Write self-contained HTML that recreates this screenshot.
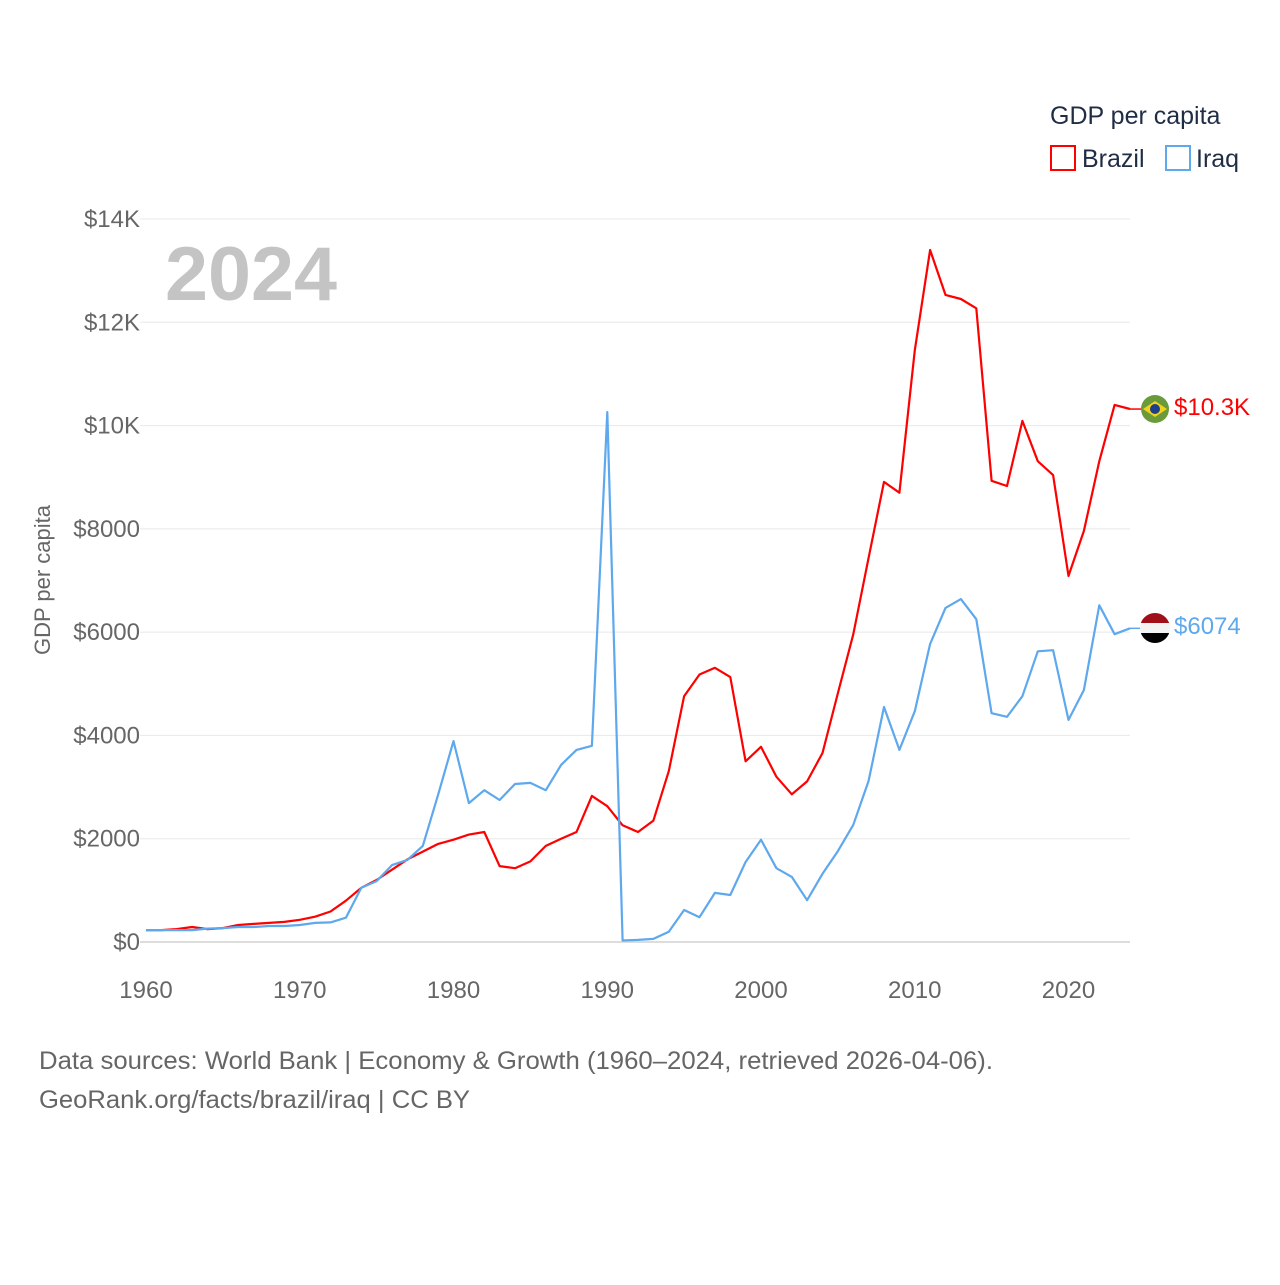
<!DOCTYPE html>
<html><head><meta charset="utf-8"><style>
html,body{margin:0;padding:0;background:#fff;}
body{width:1280px;height:1280px;position:relative;font-family:"Liberation Sans",sans-serif;overflow:hidden;}
</style></head><body>
<svg id="chart" width="1280" height="1280" xmlns="http://www.w3.org/2000/svg" font-family="Liberation Sans, sans-serif">
<g id="grid"></g>
<g id="yticks"></g>
<g id="xticks"></g>
<text x="165" y="300" font-size="76" font-weight="bold" fill="#c4c4c4" textLength="172" lengthAdjust="spacingAndGlyphs">2024</text>
<text transform="translate(50,580) rotate(-90)" text-anchor="middle" font-size="22" fill="#666">GDP per capita</text>
<g id="series"></g>
<g>
<text x="1050" y="124" font-size="25" fill="#1f2d45">GDP per capita</text>
<rect x="1051" y="146" width="24" height="24" fill="none" stroke="#ff0000" stroke-width="2"/>
<text x="1082" y="167" font-size="25" fill="#1f2d45">Brazil</text>
<rect x="1166" y="146" width="24" height="24" fill="none" stroke="#5ea8ee" stroke-width="2"/>
<text x="1196" y="167" font-size="25" fill="#1f2d45">Iraq</text>
</g>
<g>
<circle cx="1155" cy="409" r="14" fill="#6a9a3a"/>
<polygon points="1143,409 1155,401 1167,409 1155,417" fill="#f2d21b"/>
<circle cx="1155" cy="409" r="5" fill="#1e3f8a"/>
</g>
<g>
<clipPath id="ic"><circle cx="1155" cy="628" r="15"/></clipPath>
<g clip-path="url(#ic)">
<rect x="1140" y="613" width="30" height="10" fill="#a0101a"/>
<rect x="1140" y="623" width="30" height="10" fill="#f4f4f4"/>
<rect x="1140" y="633" width="30" height="10" fill="#000"/>
</g>
</g>
<text x="1174" y="415" font-size="24" fill="#ff0000">$10.3K</text>
<text x="1174" y="634" font-size="24" fill="#5ea8ee">$6074</text>
<text x="39" y="1069" font-size="25" fill="#666" textLength="954" lengthAdjust="spacingAndGlyphs">Data sources: World Bank | Economy &amp; Growth (1960–2024, retrieved 2026-04-06).</text>
<text x="39" y="1108" font-size="25" fill="#666" textLength="431" lengthAdjust="spacingAndGlyphs">GeoRank.org/facts/brazil/iraq | CC BY</text>
</svg>
<script>
const years = [];
for (let y = 1960; y <= 2024; y++) years.push(y);
const brazil = [230,230,250,290,250,270,330,350,370,390,430,490,590,800,1050,1200,1400,1600,1750,1900,1980,2080,2130,1470,1430,1560,1860,2000,2130,2830,2630,2260,2130,2350,3310,4760,5180,5310,5130,3500,3780,3200,2860,3110,3660,4820,5960,7440,8910,8700,11460,13400,12530,12450,12270,8930,8830,10090,9310,9040,7090,7960,9310,10400,10320];
const iraq = [230,230,230,230,260,270,290,290,310,310,330,370,380,470,1050,1180,1490,1590,1860,2850,3890,2690,2940,2750,3060,3080,2940,3430,3720,3800,10260,30,40,60,200,620,480,950,910,1550,1980,1430,1260,810,1320,1760,2270,3120,4550,3720,4470,5770,6470,6640,6250,4430,4360,4760,5630,5650,4300,4880,6520,5960,6074];
const yTicks = [0,2000,4000,6000,8000,10000,12000,14000];
const yTickLabels = ["$0","$2000","$4000","$6000","$8000","$10K","$12K","$14K"];
const xTicks = [1960,1970,1980,1990,2000,2010,2020];

const NS = "http://www.w3.org/2000/svg";
const X = y => 146 + (y - 1960) * (1130 - 146) / 64;
const Y = v => 942 - v * 723 / 14000;
function mk(tag, attrs, parent){const e=document.createElementNS(NS,tag);for(const k in attrs)e.setAttribute(k,attrs[k]);parent.appendChild(e);return e;}
const grid=document.getElementById('grid'), yt=document.getElementById('yticks'), xt=document.getElementById('xticks'), ser=document.getElementById('series');
yTicks.forEach((v,i)=>{
  const l=mk('line',{x1:140,x2:1130,y1:Y(v),y2:Y(v),stroke:v===0?'#dddddd':'#e8e8e8','stroke-width':v===0?2:1},grid);
  
  
  const t=mk('text',{x:140,y:Y(v)+8,'text-anchor':'end','font-size':24,fill:'#666'},yt);
  t.textContent=yTickLabels[i];
  
  
});
xTicks.forEach(v=>{
  const t=mk('text',{x:X(v),y:998,'text-anchor':'middle','font-size':24,fill:'#666'},xt);
  t.textContent=v;
  
  
});
function line(data,color,name){
  const p=mk('path',{d:data.map((v,i)=>(i?'L':'M')+X(years[i]).toFixed(1)+','+Y(v).toFixed(1)).join(''),fill:'none',stroke:color,'stroke-width':2.2,'stroke-linejoin':'round'},ser);
  
  
  const last=data[data.length-1];
  const c=mk('line',{x1:X(2024),x2:1141,y1:Y(last),y2:Y(last),stroke:color,'stroke-width':1.5},ser);
  
  
}
line(brazil,'#ff0000','brazil-line');
line(iraq,'#5ea8ee','iraq-line');
</script>
</body></html>
